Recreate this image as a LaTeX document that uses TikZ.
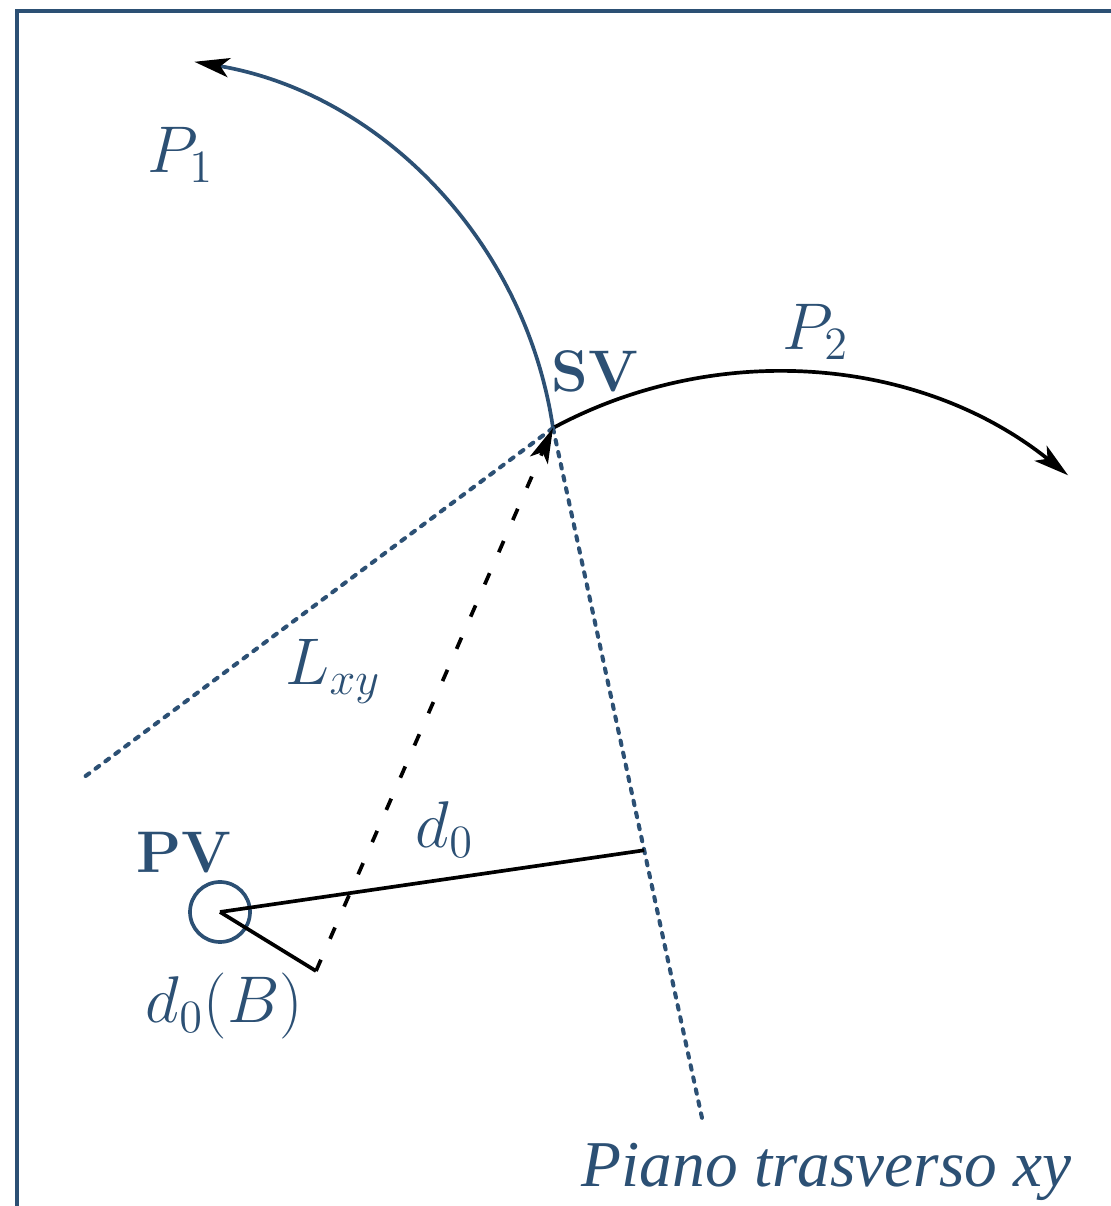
\RequirePackage{fix-cm}
\documentclass[tikz,border=0pt]{standalone}
\usepackage{fontspec}
\newfontfamily\planefont{Liberation Serif}
\usepackage{tikz}
\usetikzlibrary{positioning,arrows.meta,calc}
\definecolor{pvblue}{HTML}{2C5074}

\begin{document}
\begin{tikzpicture}[
    x=0.1mm, y=0.1mm,
    font=\fontsize{18.8}{22}\selectfont,
    >={Stealth[length=10pt, width=5.5pt, inset=2.5pt, black]},
    lbl/.style={text=pvblue, inner sep=0pt, anchor=base west},
    vtx/.style={lbl, font=\fontsize{16.7}{20}\selectfont\bfseries},
    track/.style={line width=1.05pt},
    plane/.style={pvblue, line width=1.15pt, dash pattern=on 1.3pt off 2.2pt, line cap=round},
    proj/.style={line width=1.05pt, dash pattern=on 3.5pt off 6.5pt},
  ]
    \useasboundingbox (0,0) rectangle (1111,1206);
    \draw[pvblue, line width=1.05pt] (17,0) -- (17,1195) -- (1111,1195);

    % vertices and points
    \coordinate (sv) at (553,778);
    \coordinate (lxyend) at (83,428);
    \coordinate (planeend) at (702,88);
    \coordinate (foot) at ($(sv)!0.612!(planeend)$);
    \coordinate (b) at (316,235);
    \node[circle, draw=pvblue, line width=1.05pt, minimum size=6mm, inner sep=0pt] (pv) at (220,294) {};

    % tracks
    \draw[track, pvblue, ->] (sv) arc[start angle=8.4, end angle=80.4, radius=436];
    \draw[track, ->] (sv) arc[start angle=118.3, end angle=51.2, radius=468];

    % transverse plane and projection
    \draw[plane] (sv) -- (lxyend);
    \draw[plane] (sv) -- (planeend);
    \draw[track] (pv.center) -- (foot);
    \draw[track] (pv.center) -- (b);
    \draw[proj, ->] (b) -- (sv);

    % labels
    \node[vtx] (svlabel) at (551,814) {SV};
    \node[vtx] (pvlabel) at (136,333) {PV};
    \node[lbl] (p1label) at (147,1033) {$P_1$};
    \node[lbl] (p2label) at (782,856) {$P_2$};
    \node[lbl] (lxylabel) at (285,521) {$L_{xy}$};
    \node[lbl] (d0label) at (415,358) {$d_0$};
    \node[lbl] (d0blabel) at (145,183) {$d_0(B)$};
    \node[lbl, font=\fontsize{18.6}{22}\selectfont\planefont\itshape] (planelabel) at (581,20) {Piano trasverso xy};
\end{tikzpicture}
\end{document}
